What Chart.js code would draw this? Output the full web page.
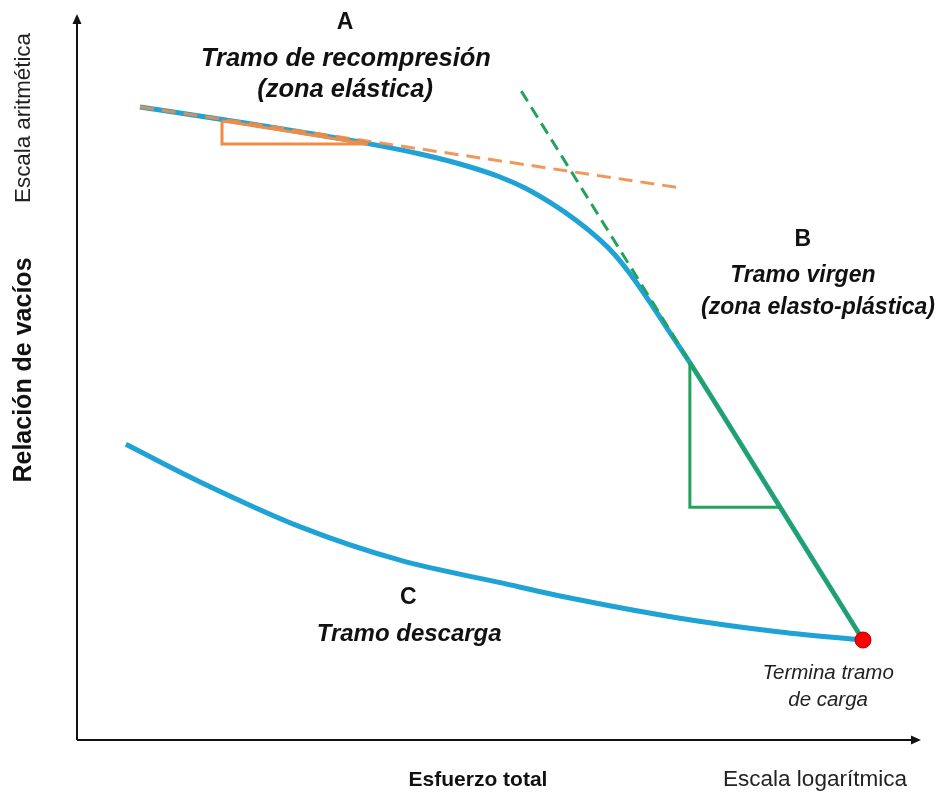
<!DOCTYPE html>
<html>
<head>
<meta charset="utf-8">
<script src="https://cdn.jsdelivr.net/npm/chart.js@4/dist/chart.umd.min.js"></script>
<style>
  html, body { margin: 0; padding: 0; background: #ffffff; }
  canvas { display: block; }
</style>
</head>
<body>
<canvas id="curva" width="938" height="794"></canvas>
<script>
// Esfuerzo (eje x, escala normalizada 0-100) y relación de vacíos (eje y, normalizada 0-100)

// Tramo de carga: recompresión + tramo virgen
const cargaX = [7.47, 20.52, 34.40, 40.69, 45.43, 50.18, 53.14, 56.11, 59.07, 62.04, 63.82, 65.60, 67.97, 70.34, 72.72, 82.92, 93.24];
const cargaY = [87.31, 84.99, 82.29, 80.83, 79.45, 77.66, 76.14, 74.14, 71.79, 68.97, 66.90, 64.31, 60.38, 56.19, 52.00, 33.01, 13.79];

// Tramo de descarga
const descargaX = [5.8, 14.6, 26.5, 38.3, 50.2, 59.7, 71.5, 83.4, 93.24];
const descargaY = [40.8, 35.6, 29.4, 24.8, 21.7, 19.3, 16.8, 14.9, 13.79];

// Tangente al tramo de recompresión (pendiente Cr)
const tangRecompX = [7.47, 71.9];
const tangRecompY = [87.31, 76.1];
const triRecompX = [17.2, 17.2, 34.5, 17.2];
const triRecompY = [85.4, 82.2, 82.2, 85.4];

// Tangente al tramo virgen (pendiente Cc)
const tangVirgenX = [52.7, 72.7];
const tangVirgenY = [89.5, 52.1];
const rectaVirgenX = [72.7, 93.24];
const rectaVirgenY = [52.1, 13.79];
const triVirgenX = [72.7, 72.7, 83.6];
const triVirgenY = [52.1, 32.1, 32.1];

// Fin del tramo de carga
const finCargaX = [93.24];
const finCargaY = [13.79];

// Textos
const textoA = ['A', 'Tramo de recompresión', '(zona elástica)'];
const textoB = ['B', 'Tramo virgen', '(zona elasto-plástica)'];
const textoC = ['C', 'Tramo descarga'];
const textoFin = ['Termina tramo', 'de carga'];
const tituloY = 'Relación de vacíos';
const escalaY = 'Escala aritmética';
const tituloX = 'Esfuerzo total';
const escalaX = 'Escala logarítmica';

const pares = (xs, ys) => xs.map((x, i) => ({ x: x, y: ys[i] }));

const AZUL = '#1fa2d6';
const NARANJA = '#ee8d48';
const VERDE = '#24a25c';
const FUENTE = '"Liberation Sans", Arial, sans-serif';

// Ejes con flecha y rótulos
const ejesYTextos = {
  id: 'ejesYTextos',
  beforeDatasetsDraw(chart) {
    const { ctx, chartArea: a } = chart;
    ctx.save();
    ctx.strokeStyle = '#111';
    ctx.fillStyle = '#111';
    ctx.lineWidth = 2;
    ctx.beginPath();
    ctx.moveTo(a.left, a.bottom);
    ctx.lineTo(a.left, a.top + 6);
    ctx.moveTo(a.left, a.bottom);
    ctx.lineTo(a.right - 6, a.bottom);
    ctx.stroke();
    // puntas de flecha
    ctx.beginPath();
    ctx.moveTo(a.left, a.top - 1);
    ctx.lineTo(a.left - 4.5, a.top + 9);
    ctx.lineTo(a.left + 4.5, a.top + 9);
    ctx.closePath();
    ctx.fill();
    ctx.beginPath();
    ctx.moveTo(a.right + 1, a.bottom);
    ctx.lineTo(a.right - 9, a.bottom - 4.5);
    ctx.lineTo(a.right - 9, a.bottom + 4.5);
    ctx.closePath();
    ctx.fill();
    ctx.restore();
  },
  afterDraw(chart) {
    const { ctx, chartArea: a } = chart;
    const sx = chart.scales.x, sy = chart.scales.y;
    const txt = (t, x, y, font, color) => {
      ctx.font = font;
      ctx.fillStyle = color || '#111';
      ctx.fillText(t, x, y);
    };
    const px = v => sx.getPixelForValue(v);
    const py = v => sy.getPixelForValue(v);
    ctx.save();
    ctx.textAlign = 'center';
    ctx.textBaseline = 'middle';

    // A
    txt(textoA[0], px(31.8), py(99.0), 'bold 23px ' + FUENTE);
    txt(textoA[1], px(31.9), py(93.9), 'italic bold 25.5px ' + FUENTE);
    txt(textoA[2], px(31.8), py(89.7), 'italic bold 25.5px ' + FUENTE);
    // B
    txt(textoB[0], px(86.1), py(69.0), 'bold 23px ' + FUENTE);
    txt(textoB[1], px(86.1), py(64.1), 'italic bold 23px ' + FUENTE);
    txt(textoB[2], px(87.9), py(59.7), 'italic bold 23px ' + FUENTE);
    // C
    txt(textoC[0], px(39.3), py(19.7), 'bold 23px ' + FUENTE);
    txt(textoC[1], px(39.4), py(14.6), 'italic bold 24px ' + FUENTE);
    // fin de carga
    txt(textoFin[0], px(89.1), py(9.2), 'italic 20.5px ' + FUENTE, '#222');
    txt(textoFin[1], px(89.1), py(5.5), 'italic 20.5px ' + FUENTE, '#222');

    // título y escala del eje x
    txt(tituloX, 478, a.bottom + 40, 'bold 21px ' + FUENTE);
    txt(escalaX, 815, a.bottom + 40, '22.5px ' + FUENTE, '#222');

    // título y escala del eje y (girados)
    ctx.save();
    ctx.translate(24, 370);
    ctx.rotate(-Math.PI / 2);
    txt(tituloY, 0, 0, 'bold 25px ' + FUENTE);
    ctx.restore();
    ctx.save();
    ctx.translate(24, 118);
    ctx.rotate(-Math.PI / 2);
    txt(escalaY, 0, 0, '22.3px ' + FUENTE, '#222');
    ctx.restore();

    ctx.restore();
  }
};

new Chart(document.getElementById('curva'), {
  type: 'line',
  data: {
    datasets: [
      {
        label: 'Fin de carga',
        data: pares(finCargaX, finCargaY),
        showLine: false,
        pointRadius: 8,
        pointBackgroundColor: '#ff0000',
        pointBorderColor: '#b00000',
        pointBorderWidth: 1,
        order: 0
      },
      {
        label: 'Tangente recompresión',
        data: pares(tangRecompX, tangRecompY),
        borderColor: 'rgba(238,141,72,0.9)',
        borderWidth: 3,
        borderDash: [14, 8],
        pointRadius: 0,
        tension: 0,
        order: 1
      },
      {
        label: 'Triángulo recompresión',
        data: pares(triRecompX, triRecompY),
        borderColor: NARANJA,
        borderWidth: 3,
        pointRadius: 0,
        tension: 0,
        order: 1
      },
      {
        label: 'Tangente virgen',
        data: pares(tangVirgenX, tangVirgenY),
        borderColor: VERDE,
        borderWidth: 3,
        borderDash: [12, 7],
        pointRadius: 0,
        tension: 0,
        order: 1
      },
      {
        label: 'Recta virgen',
        data: pares(rectaVirgenX, rectaVirgenY),
        borderColor: VERDE,
        borderWidth: 3.5,
        pointRadius: 0,
        tension: 0,
        order: 1
      },
      {
        label: 'Triángulo virgen',
        data: pares(triVirgenX, triVirgenY),
        borderColor: VERDE,
        borderWidth: 3,
        pointRadius: 0,
        tension: 0,
        order: 1
      },
      {
        label: 'Tramo de carga',
        data: pares(cargaX, cargaY),
        borderColor: AZUL,
        borderWidth: 5,
        pointRadius: 0,
        cubicInterpolationMode: 'monotone',
        order: 3
      },
      {
        label: 'Tramo de descarga',
        data: pares(descargaX, descargaY),
        borderColor: AZUL,
        borderWidth: 5,
        pointRadius: 0,
        cubicInterpolationMode: 'monotone',
        order: 3
      }
    ]
  },
  options: {
    responsive: false,
    animation: false,
    parsing: false,
    layout: { padding: { left: 77, right: 18, top: 15, bottom: 54 } },
    plugins: { legend: { display: false }, tooltip: { enabled: false } },
    elements: { line: { borderCapStyle: 'butt', borderJoinStyle: 'miter' } },
    scales: {
      x: { type: 'linear', min: 0, max: 100, display: false },
      y: { type: 'linear', min: 0, max: 100, display: false }
    }
  },
  plugins: [ejesYTextos]
});
</script>
</body>
</html>
